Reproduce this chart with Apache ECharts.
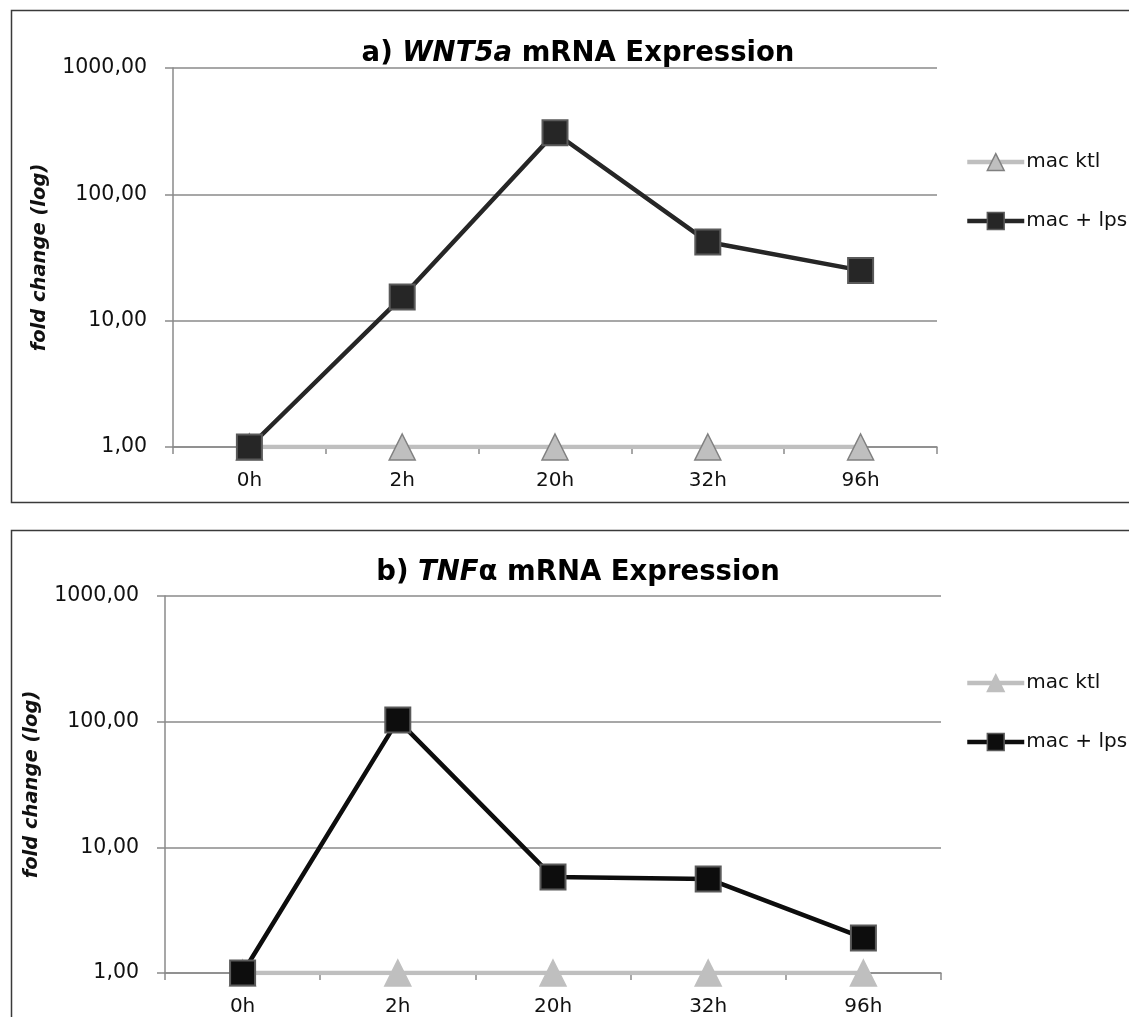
<!DOCTYPE html>
<html>
<head>
<meta charset="utf-8">
<script src="https://cdn.jsdelivr.net/npm/echarts@6/dist/echarts.min.js"></script>
<style>
  html, body { margin: 0; padding: 0; background: #fff; }
  #chart { width: 1129px; height: 1017px; }
</style>
</head>
<body>
<div id="chart"></div>
<script>
// Time points after stimulation
const categories = ['0h', '2h', '20h', '32h', '96h'];

// a) WNT5a fold change
const wntKtl = [1, 1, 1, 1, 1];
const wntLps = [1, 15.4, 307, 42, 25];

// b) TNFα fold change
const tnfKtl = [1, 1, 1, 1, 1];
const tnfLps = [1, 103, 5.8, 5.6, 1.9];

const seriesNames = ['mac ktl', 'mac + lps'];
const yMin = 1, yMax = 1000;

const FONT = '"DejaVu Sans", sans-serif';
const gridColor = '#8a8a8a';
const ktlColor = '#bfbfbf';

const chart = echarts.init(document.getElementById('chart'), null, { renderer: 'canvas' });

function fmt(v) {
  return v.toFixed(2).replace('.', ',');
}

function xAxisFor(gridIndex) {
  return {
    type: 'category',
    gridIndex: gridIndex,
    data: categories,
    boundaryGap: true,
    axisLine: { show: true, lineStyle: { color: gridColor, width: 1.5 } },
    axisTick: { show: true, length: 7, alignWithLabel: false, lineStyle: { color: gridColor, width: 1.5 } },
    axisLabel: { color: '#111', fontSize: 20, fontFamily: FONT, margin: 24 },
    splitLine: { show: false }
  };
}

function yAxisFor(gridIndex) {
  return {
    type: 'log',
    logBase: 10,
    gridIndex: gridIndex,
    min: yMin,
    max: yMax,
    name: 'fold change (log)',
    nameLocation: 'middle',
    nameGap: 123,
    nameTextStyle: { fontSize: 19.5, fontWeight: 'bold', fontStyle: 'italic', color: '#111', fontFamily: FONT },
    axisLine: { show: true, lineStyle: { color: gridColor, width: 1.5 } },
    axisTick: { show: true, length: 8, lineStyle: { color: gridColor, width: 1.5 } },
    axisLabel: { color: '#111', fontSize: 20.5, fontFamily: FONT, margin: 26, formatter: fmt },
    splitLine: { show: true, lineStyle: { color: gridColor, width: 1.5 } }
  };
}

function ktlSeries(axisIndex, data, borderColor) {
  return {
    name: seriesNames[0],
    type: 'line',
    xAxisIndex: axisIndex,
    yAxisIndex: axisIndex,
    data: data,
    symbol: 'triangle',
    symbolSize: 26,
    lineStyle: { color: ktlColor, width: 4.5 },
    itemStyle: { color: ktlColor, borderColor: borderColor, borderWidth: 1.5 },
    emphasis: { disabled: true },
    z: 2
  };
}

function lpsSeries(axisIndex, data, color) {
  return {
    name: seriesNames[1],
    type: 'line',
    xAxisIndex: axisIndex,
    yAxisIndex: axisIndex,
    data: data,
    symbol: 'rect',
    symbolSize: 25,
    lineStyle: { color: color, width: 4.5 },
    itemStyle: { color: color, borderColor: '#5a5a5a', borderWidth: 2 },
    emphasis: { disabled: true },
    z: 3
  };
}

function legendFor(top, lpsColor, ktlBorder) {
  return {
    orient: 'vertical',
    left: 960,
    top: top,
    itemWidth: 57,
    itemHeight: 21,
    itemGap: 39,
    selectedMode: false,
    textStyle: { fontSize: 20, fontFamily: FONT, color: '#111', padding: [0, 0, 0, -3] },
    data: [
      { name: seriesNames[0], itemStyle: { color: ktlColor, borderColor: ktlBorder, borderWidth: 1.5 }, lineStyle: { color: ktlColor, width: 4.5 } },
      { name: seriesNames[1], itemStyle: { color: lpsColor, borderColor: '#5a5a5a', borderWidth: 1.5 }, lineStyle: { color: lpsColor, width: 4.5 } }
    ]
  };
}

function titleFor(top, letter, gene, rest) {
  return {
    left: 573,
    top: top,
    textAlign: 'center',
    textVerticalAlign: 'middle',
    text: '{n|' + letter + ' }{g|' + gene + '}{n|' + rest + '}',
    textStyle: {
      rich: {
        n: { fontSize: 27.5, fontWeight: 'bold', color: '#000', fontFamily: FONT },
        g: { fontSize: 27.5, fontWeight: 'bold', fontStyle: 'italic', color: '#000', fontFamily: FONT }
      }
    }
  };
}

const option = {
  backgroundColor: '#fff',
  animation: false,
  title: [
    titleFor(49, 'a)', 'WNT5a', ' mRNA Expression'),
    titleFor(568, 'b)', 'TNF', 'α mRNA Expression')
  ],
  legend: [
    legendFor(147, '#262626', '#808080'),
    legendFor(668, '#0d0d0d', ktlColor)
  ],
  grid: [
    { left: 173, top: 68, width: 764, height: 379, containLabel: false },
    { left: 165, top: 596, width: 776, height: 378, containLabel: false }
  ],
  xAxis: [xAxisFor(0), xAxisFor(1)],
  yAxis: [yAxisFor(0), yAxisFor(1)],
  graphic: [
    { type: 'rect', left: 9, top: 8, shape: { x: 0, y: 0, width: 1140, height: 492 }, style: { fill: null, stroke: '#3a3a3a', lineWidth: 1.5 }, z: -1, silent: true },
    { type: 'rect', left: 9, top: 528, shape: { x: 0, y: 0, width: 1140, height: 510 }, style: { fill: null, stroke: '#3a3a3a', lineWidth: 1.5 }, z: -1, silent: true }
  ],
  series: [
    ktlSeries(0, wntKtl, '#808080'),
    lpsSeries(0, wntLps, '#262626'),
    ktlSeries(1, tnfKtl, ktlColor),
    lpsSeries(1, tnfLps, '#0d0d0d')
  ]
};

chart.setOption(option);
</script>
</body>
</html>
